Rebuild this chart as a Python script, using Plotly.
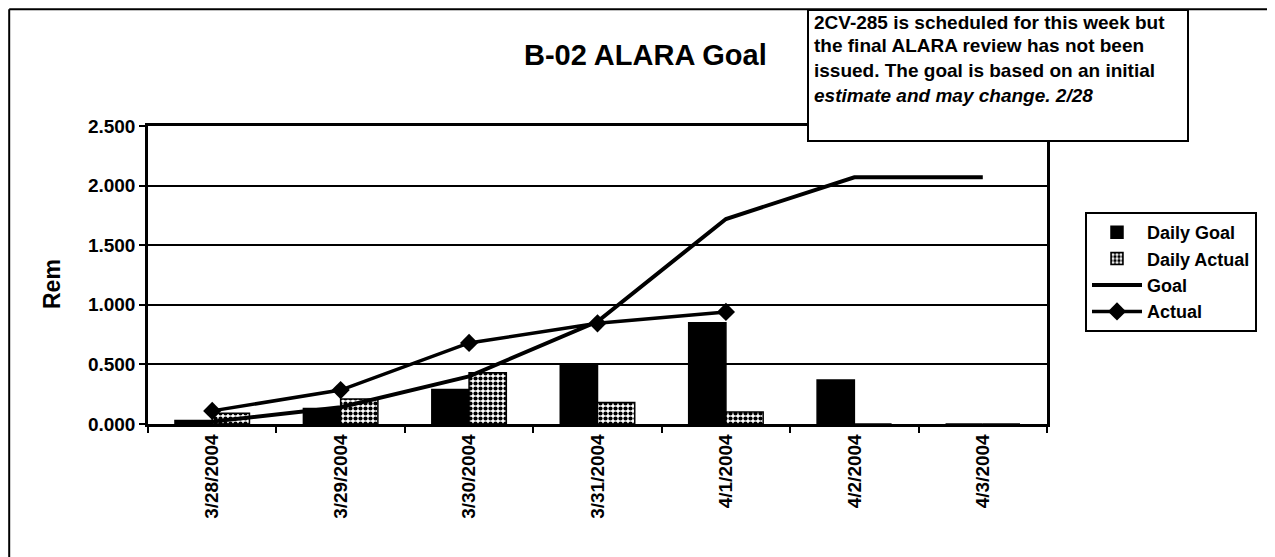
import plotly.graph_objects as go

# ---- data ----
dates = ["3/28/2004", "3/29/2004", "3/30/2004", "3/31/2004", "4/1/2004", "4/2/2004", "4/3/2004"]
daily_goal = [0.03, 0.13, 0.29, 0.50, 0.85, 0.37, 0.0]
daily_actual = [0.09, 0.21, 0.43, 0.18, 0.10, 0.0, 0.0]
goal = [0.02, 0.14, 0.40, 0.86, 1.72, 2.07, 2.07]
actual = [0.11, 0.285, 0.68, 0.845, 0.94, None, None]
y_ticks = [0.0, 0.5, 1.0, 1.5, 2.0, 2.5]
note_lines = [
    "2CV-285 is scheduled for this week but",
    "the final ALARA review has not been",
    "issued. The goal is based on an initial",
    "<i>estimate and may change. 2/28</i>",
]

OFF = 8  # page body margin
W, H = 1275 - OFF, 557 - OFF
L, R, T, B = 148, 1047, 126, 424  # plot area in reference pixels
FONT = "Liberation Sans, Arial, sans-serif"


def px2x(px):
    return (px - L) / (R - L)


def px2y(py):
    return (B - py) / (B - T)


fig = go.Figure()
fig.add_trace(go.Bar(
    x=dates, y=daily_goal, name="Daily Goal",
    marker=dict(color="black", line=dict(color="black", width=1.5)),
))
fig.add_trace(go.Bar(
    x=dates, y=daily_actual, name="Daily Actual",
    marker=dict(color="white", line=dict(color="black", width=1.5),
                pattern=dict(shape=".", fgcolor="black", bgcolor="white",
                             size=5, solidity=0.55, fillmode="replace")),
))
fig.add_trace(go.Scatter(
    x=dates, y=goal, name="Goal", mode="lines",
    line=dict(color="black", width=4),
))
fig.add_trace(go.Scatter(
    x=dates, y=actual, name="Actual", mode="lines+markers",
    line=dict(color="black", width=3.5),
    marker=dict(symbol="diamond", size=14, color="black"),
))

shapes = [
    # outer frame (left and top edges)
    dict(type="line", xref="paper", yref="paper", x0=px2x(9.2), x1=px2x(9.2),
         y0=px2y(9.2), y1=px2y(557), line=dict(color="black", width=2)),
    dict(type="line", xref="paper", yref="paper", x0=px2x(9.2), x1=px2x(1275),
         y0=px2y(9.2), y1=px2y(9.2), line=dict(color="black", width=2)),
    # note box
    dict(type="rect", xref="paper", yref="paper", x0=px2x(808), x1=px2x(1188),
         y0=px2y(141), y1=px2y(10), fillcolor="white",
         line=dict(color="black", width=2), layer="above"),
]

annotations = [
    dict(text="B-02 ALARA Goal", xref="paper", yref="paper", x=px2x(645), y=px2y(55),
         xanchor="center", yanchor="middle", showarrow=False,
         font=dict(family=FONT, size=29, color="black", weight="bold")),
    dict(text="Rem", xref="paper", yref="paper", x=px2x(52), y=px2y(284),
         xanchor="center", yanchor="middle", showarrow=False, textangle=-90,
         font=dict(family=FONT, size=23, color="black", weight="bold")),
]
centers = [22, 46, 70, 95]
for txt, cy in zip(note_lines, centers):
    annotations.append(dict(
        text=txt, xref="paper", yref="paper", x=px2x(812), y=px2y(cy),
        xanchor="left", yanchor="middle", showarrow=False, align="left",
        font=dict(family=FONT, size=19, color="black", weight="bold")))

fig.update_layout(
    width=W, height=H,
    margin=dict(l=L - OFF, r=W - (R - OFF), t=T - OFF, b=H - (B - OFF), pad=0),
    paper_bgcolor="white", plot_bgcolor="white",
    font=dict(family=FONT, color="black", weight="bold"),
    barmode="group", bargap=0.42, bargroupgap=0,
    showlegend=True,
    legend=dict(x=px2x(1085), y=px2y(212), xanchor="left", yanchor="top",
                bgcolor="white", bordercolor="black", borderwidth=2,
                font=dict(family=FONT, size=18, color="black", weight="bold"),
                itemwidth=50, traceorder="normal", tracegroupgap=0),
    shapes=shapes,
    annotations=annotations,
)
fig.update_xaxes(
    type="category", tickson="boundaries", ticks="outside", ticklen=6,
    tickwidth=2, tickcolor="black", showline=True, linecolor="black",
    linewidth=2.5, mirror=True, tickangle=-90, showgrid=False,
    tickfont=dict(family=FONT, size=19, color="black", weight="bold"),
)
fig.update_yaxes(
    range=[0, 2.5], tickvals=y_ticks, tickformat=".3f", showgrid=True,
    gridcolor="black", gridwidth=2, ticks="outside", ticklen=6, tickwidth=2,
    tickcolor="black", showline=True, linecolor="black", linewidth=2.5,
    mirror=True, zeroline=False,
    tickfont=dict(family=FONT, size=19, color="black", weight="bold"),
)

fig.write_html("out.html")
